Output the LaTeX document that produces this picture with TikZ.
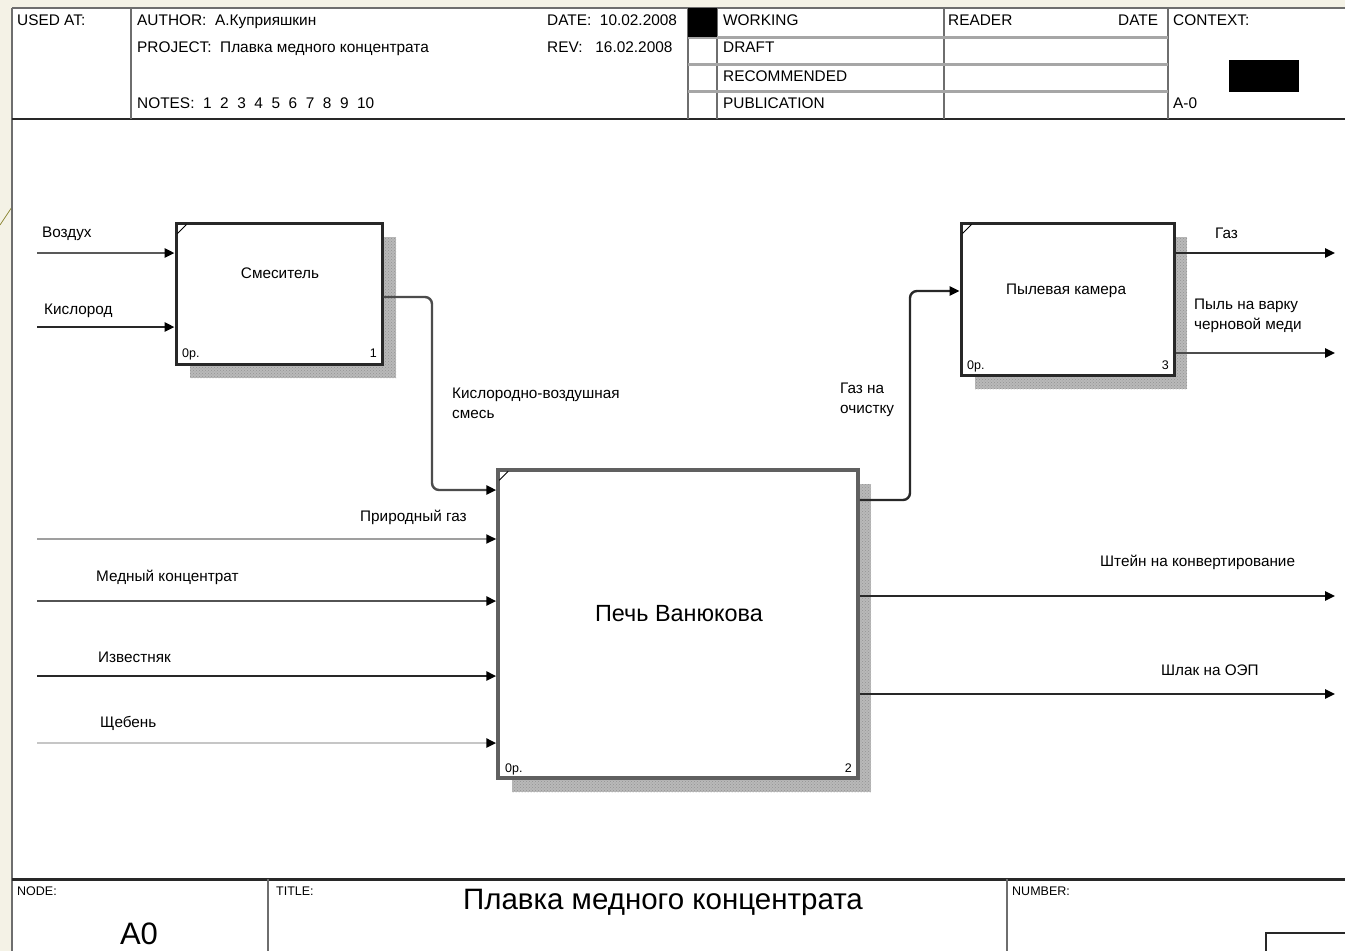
\documentclass[tikz,border=0pt]{standalone}
\usepackage{fontspec}
\setmainfont{Liberation Sans}
\usetikzlibrary{arrows.meta,patterns}
\definecolor{beige}{RGB}{244,242,230}
\definecolor{frame}{RGB}{110,110,110}
\definecolor{dk}{RGB}{40,40,40}
\begin{document}
\begin{tikzpicture}[x=1pt,y=-1pt,
  hdr/.style={font=\fontsize{15.4}{17}\selectfont, anchor=base west, inner sep=0pt},
  lbl/.style={font=\fontsize{15.3}{20}\selectfont, anchor=base west, inner sep=0pt, align=left},
  small/.style={font=\fontsize{12.5}{14}\selectfont, inner sep=0pt},
  fbox/.style={draw=dk, line width=3pt, fill=white, inner sep=0pt},
  arr/.style={line width=2.4pt, -{Triangle[length=10pt,width=9pt,color=black]}},
  shade/.style={fill=gray!55},
  hline/.style={line width=2pt, draw=frame}]
\useasboundingbox (0,0) rectangle (1345,951);
% background
\fill[beige] (0,0) rectangle (1345,951);
\fill[white] (12,8) rectangle (1345,951);
\draw[olive!60!gray, line width=0.8pt] (0,225) -- (12,207);
% header frame
\draw[hline] (12,8) -- (1345,8);
\draw[hline] (12,8) -- (12,951);
\draw[hline, draw=dk] (12,119) -- (1345,119);
\foreach \xx in {131,688,717,944,1168} \draw[hline] (\xx,8) -- (\xx,119);
\foreach \yy in {37,64,91} \draw[line width=3pt, draw=gray!70] (688,\yy) -- (1168,\yy);
\fill[black] (688,8) rectangle (717,37);
\fill[black] (1229,60) rectangle (1299,92);
% header texts
\node[hdr] (usedat) at (17,25) {USED AT:};
\node[hdr] (author) at (137,25) {AUTHOR:\ \ А.Куприяшкин};
\node[hdr] (project) at (137,52) {PROJECT:\ \ Плавка медного концентрата};
\node[hdr] (notes) at (137,108) {NOTES:\ \ 1\ \ 2\ \ 3\ \ 4\ \ 5\ \ 6\ \ 7\ \ 8\ \ 9\ \ 10};
\node[hdr] (date) at (547,25) {DATE:\ \ 10.02.2008};
\node[hdr] (rev) at (547,52) {REV:\ \ \ 16.02.2008};
\node[hdr] (working) at (723,25) {WORKING};
\node[hdr] (draft) at (723,52) {DRAFT};
\node[hdr] (recom) at (723,81) {RECOMMENDED};
\node[hdr] (publ) at (723,108) {PUBLICATION};
\node[hdr] (reader) at (948,25) {READER};
\node[hdr] (rdate) at (1118,25) {DATE};
\node[hdr] (context) at (1173,25) {CONTEXT:};
\node[hdr] (ctxnode) at (1173,108) {A-0};
% footer
\draw[line width=3pt, draw=dk] (12,879) -- (1345,879);
\draw[hline] (268,879) -- (268,951);
\draw[hline] (1007,879) -- (1007,951);
\draw[line width=2.5pt, draw=dk] (1266,951) -- (1266,933) -- (1345,933);
\node[small, anchor=base west] (nodelbl) at (17,895) {NODE:};
\node[small, anchor=base west] (titlelbl) at (276,895) {TITLE:};
\node[small, anchor=base west] (numlbl) at (1012,895) {NUMBER:};
\node[font=\fontsize{31}{34}\selectfont, anchor=base, inner sep=0pt] (a0) at (139,944) {A0};
\node[font=\fontsize{29.5}{32}\selectfont, anchor=base, inner sep=0pt] (title) at (663,909) {Плавка медного концентрата};
% shadows
\fill[shade] (190,237) rectangle (396,378);
\fill[pattern=crosshatch dots, pattern color=gray!85] (190,237) rectangle (396,378);
\fill[shade] (512,484) rectangle (871,792);
\fill[pattern=crosshatch dots, pattern color=gray!85] (512,484) rectangle (871,792);
\fill[shade] (975,237) rectangle (1187,389);
\fill[pattern=crosshatch dots, pattern color=gray!85] (975,237) rectangle (1187,389);
% boxes
\node[fbox, minimum width=206pt, minimum height=141pt] (b1) at (279,293.5) {};
\node[fbox, draw=gray!75!black, line width=3.5pt, minimum width=360pt, minimum height=308pt] (b2) at (678,624) {};
\node[fbox, minimum width=213pt, minimum height=152pt] (b3) at (1067.5,299) {};
\foreach \b in {b1,b2,b3} \draw[line width=1pt] ([shift={(3,12)}]\b.north west) -- ([shift={(12,3)}]\b.north west);
\node[lbl, anchor=base] (t1) at (280,278) {Смеситель};
\node[font=\fontsize{23.4}{26}\selectfont, anchor=base, inner sep=0pt] (t2) at (679,621) {Печь Ванюкова};
\node[lbl, anchor=base] (t3) at (1066,294) {Пылевая камера};
\node[small, anchor=base west] (n1a) at (182,357) {0р.};
\node[small, anchor=base east] (n1b) at (377,357) {1};
\node[small, anchor=base west] (n2a) at (505,772) {0р.};
\node[small, anchor=base east] (n2b) at (852,772) {2};
\node[small, anchor=base west] (n3a) at (967,369) {0р.};
\node[small, anchor=base east] (n3b) at (1169,369) {3};
% free ends
\coordinate (iVoz) at (37,253);
\coordinate (iKis) at (37,327);
\coordinate (iPg) at (37,539);
\coordinate (iMk) at (37,601);
\coordinate (iIz) at (37,676);
\coordinate (iSh) at (37,743);
\coordinate (oGaz) at (1335,253);
\coordinate (oPyl) at (1335,353);
\coordinate (oSht) at (1335,596);
\coordinate (oShl) at (1335,694);
\coordinate (m1) at (382,297);
\coordinate (m2) at (432,490);
\coordinate (m3) at (858,500);
\coordinate (m4) at (910,291);
% arrows
\draw[arr, draw=gray!70!black] (iVoz) -- (b1.west |- iVoz);
\draw[arr, draw=dk] (iKis) -- (b1.west |- iKis);
\draw[arr, draw=gray!75, line width=2pt] (iPg) -- (b2.west |- iPg);
\draw[arr, draw=gray!65!black] (iMk) -- (b2.west |- iMk);
\draw[arr, draw=dk] (iIz) -- (b2.west |- iIz);
\draw[arr, draw=gray!45] (iSh) -- (b2.west |- iSh);
\draw[arr, draw=gray!60!black, rounded corners=7pt] (b1.east |- m1) -- (m2 |- m1) -- (m2) -- (b2.west |- m2);
\draw[arr, draw=dk, rounded corners=7pt] (b2.east |- m3) -- (m4 |- m3) -- (m4) -- (b3.west |- m4);
\draw[arr, draw=dk] (b3.east |- oGaz) -- (oGaz);
\draw[arr, draw=gray!60!black] (b3.east |- oPyl) -- (oPyl);
\draw[arr, draw=dk] (b2.east |- oSht) -- (oSht);
\draw[arr, draw=dk] (b2.east |- oShl) -- (oShl);
% arrow labels
\node[lbl] (lVoz) at (42,237) {Воздух};
\node[lbl] (lKis) at (44,314) {Кислород};
\node[lbl] (lSm) at (452,418) {Кислородно-воздушная\\смесь};
\node[lbl] (lPg) at (360,521) {Природный газ};
\node[lbl] (lMk) at (96,581) {Медный концентрат};
\node[lbl] (lIz) at (98,662) {Известняк};
\node[lbl] (lSh) at (100,727) {Щебень};
\node[lbl] (lGo) at (840,413) {Газ на\\очистку};
\node[lbl] (lGaz) at (1215,238) {Газ};
\node[lbl] (lPyl) at (1194,329) {Пыль на варку\\черновой меди};
\node[lbl] (lSht) at (1100,566) {Штейн на конвертирование};
\node[lbl] (lShl) at (1161,675) {Шлак на ОЭП};
\end{tikzpicture}
\end{document}
